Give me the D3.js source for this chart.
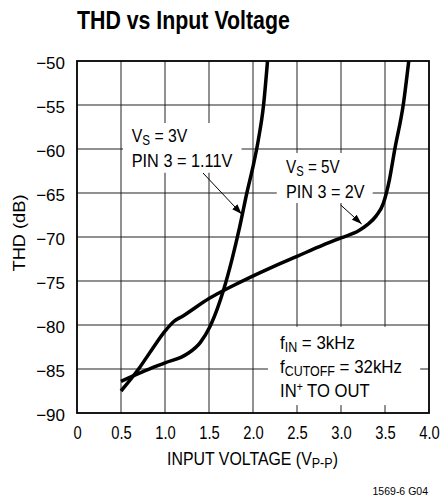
<!DOCTYPE html>
<html>
<head>
<meta charset="utf-8">
<script src="https://cdn.jsdelivr.net/npm/d3@7"></script>
<style>
  html, body { margin: 0; padding: 0; background: #fff; }
  svg { display: block; }
  text { font-family: "Liberation Sans", Arial, sans-serif; fill: #000; }
</style>
</head>
<body>
<svg id="chart" width="445" height="497"></svg>
<script>
// ---- data ----
const xTicks = [0, 0.5, 1.0, 1.5, 2.0, 2.5, 3.0, 3.5, 4.0];
const yTicks = [-50, -55, -60, -65, -70, -75, -80, -85, -90];

// Vs = 3V, PIN 3 = 1.11V
const vs3V  = [0.5, 0.75, 1.0, 1.25, 1.4, 1.51, 1.6, 1.66, 1.76, 1.85, 1.93, 2.0, 2.06, 2.12, 2.165];
const vs3DB = [-86.4, -85.3, -84.3, -83.3, -82.0, -80.2, -78.0, -76.2, -72.6, -68.8, -65.0, -62.0, -59.0, -55.0, -50];

// Vs = 5V, PIN 3 = 2V
const vs5V  = [0.5, 0.7, 0.85, 1.0, 1.1, 1.2, 1.5, 1.8, 2.2, 2.5, 2.8, 3.0, 3.2, 3.3, 3.4, 3.48, 3.55, 3.61, 3.71, 3.77];
const vs5DB = [-87.5, -85.0, -82.8, -80.7, -79.6, -79.0, -77.0, -75.4, -73.5, -72.2, -70.9, -70.1, -69.3, -68.6, -67.6, -66.2, -63.5, -60.1, -54.8, -50];

// ---- layout ----
const svg = d3.select("#chart");
const L = 77, R = 429, T = 61, B = 413;
const x = d3.scaleLinear().domain([0, 4]).range([L, R]);
const y = d3.scaleLinear().domain([-90, -50]).range([B, T]);

// squeeze a text horizontally to a target width about its anchor x
function fit(sel, w, ax) {
  const node = sel.node();
  const bw = node.getBBox().width;
  const k = w / bw;
  sel.attr("transform", `translate(${ax},0) scale(${k},1) translate(${-ax},0)`);
}

// title
const title = svg.append("text").attr("x", 77).attr("y", 29)
  .style("font-size", "26px").style("font-weight", "bold")
  .text("THD vs Input Voltage");
fit(title, 213, 77);

// grid
const grid = svg.append("g");
grid.selectAll("line.v").data(xTicks.slice(1, -1)).join("line")
  .attr("x1", d => x(d)).attr("x2", d => x(d)).attr("y1", T).attr("y2", B)
  .attr("stroke", "#222").attr("stroke-width", 1);
grid.selectAll("line.h").data(yTicks.slice(1, -1)).join("line")
  .attr("x1", L).attr("x2", R).attr("y1", d => y(d)).attr("y2", d => y(d))
  .attr("stroke", "#222").attr("stroke-width", 1);

// annotation masks (white boxes behind labels), in data units [x0, x1, yTop, yBottom]
const masks = [
  [0.523, 1.87, -57.05, -62.7],
  [2.27, 3.36, -60.45, -66.14],
  [2.17, 3.9, -80.2, -89.1]
];
svg.append("g").selectAll("rect").data(masks).join("rect")
  .attr("x", d => x(d[0])).attr("width", d => x(d[1]) - x(d[0]))
  .attr("y", d => y(d[2])).attr("height", d => y(d[3]) - y(d[2]))
  .attr("fill", "#fff");

// frame
svg.append("rect").attr("x", L).attr("y", T).attr("width", R - L).attr("height", B - T)
  .attr("fill", "none").attr("stroke", "#000").attr("stroke-width", 1.8);

// axes labels
const xAxis = d3.axisBottom(x).tickValues(xTicks).tickSize(0).tickPadding(13)
  .tickFormat(d => d === 0 ? "0" : d3.format(".1f")(d));
const gx = svg.append("g").attr("transform", `translate(0,${B})`).call(xAxis);
gx.select(".domain").remove();
gx.selectAll("text").style("font-size", "18px").style("font-family", null)
  .attr("transform", "scale(0.82,1)").attr("x", 0);

const yAxis = d3.axisLeft(y).tickValues(yTicks).tickSize(0).tickPadding(12)
  .tickFormat(d => "\u2212" + Math.abs(d));
const gy = svg.append("g").attr("transform", `translate(${L},0)`).call(yAxis);
gy.select(".domain").remove();
gy.selectAll("text").style("font-size", "17px").style("font-family", null).attr("dy", "0.42em");

// curves
const line = d3.line().x(d => x(d[0])).y(d => y(d[1])).curve(d3.curveMonotoneX);
const s3 = vs3V.map((v, i) => [v, vs3DB[i]]);
const s5 = vs5V.map((v, i) => [v, vs5DB[i]]);
svg.append("path").datum(s3).attr("d", line).attr("fill", "none").attr("stroke", "#000").attr("stroke-width", 3.5);
svg.append("path").datum(s5).attr("d", line).attr("fill", "none").attr("stroke", "#000").attr("stroke-width", 3.5);

// arrows
const defs = svg.append("defs");
defs.append("marker").attr("id", "ah").attr("viewBox", "0 0 10 10").attr("refX", 10).attr("refY", 5)
  .attr("markerWidth", 10).attr("markerHeight", 10).attr("markerUnits", "userSpaceOnUse").attr("orient", "auto")
  .append("path").attr("d", "M0,1.5 L10,5 L0,8.5 Z").attr("fill", "#000");
const arrows = [
  [1.432, -62.73, 1.871, -67.39],
  [2.996, -66.36, 3.235, -68.52]
];
svg.append("g").selectAll("line").data(arrows).join("line")
  .attr("x1", d => x(d[0])).attr("y1", d => y(d[1]))
  .attr("x2", d => x(d[2])).attr("y2", d => y(d[3]))
  .attr("stroke", "#000").attr("stroke-width", 1).attr("marker-end", "url(#ah)");

// annotation texts
function label(xv, yv, parts, w) {
  const t = svg.append("text").attr("x", x(xv)).attr("y", y(yv)).style("font-size", "19px");
  parts.forEach(p => {
    const ts = t.append("tspan").text(p.t);
    if (p.sub) ts.attr("dy", "3").style("font-size", "14px");
    else if (p.sup) ts.attr("dy", "-6").style("font-size", "12px");
    else if (p.back) ts.attr("dy", p.back);
  });
  fit(t, w, x(xv));
}
label(0.622, -59.17, [{t: "V"}, {t: "S", sub: true}, {t: " = 3V", back: "-3"}], 56);
label(0.622, -62.0, [{t: "PIN 3 = 1.11V"}], 101);
label(2.375, -62.76, [{t: "V"}, {t: "S", sub: true}, {t: " = 5V", back: "-3"}], 54);
label(2.375, -65.6, [{t: "PIN 3 = 2V"}], 79);
label(2.307, -82.76, [{t: "f"}, {t: "IN", sub: true}, {t: " = 3kHz", back: "-3"}], 75);
label(2.307, -85.5, [{t: "f"}, {t: "CUTOFF", sub: true}, {t: " = 32kHz", back: "-3"}], 122);
label(2.307, -88.2, [{t: "IN"}, {t: "+", sup: true}, {t: " TO OUT", back: "6"}], 90);

// axis titles
const xt = svg.append("text").attr("x", 252.5).attr("y", 465).attr("text-anchor", "middle").style("font-size", "19px");
xt.append("tspan").text("INPUT VOLTAGE (V");
xt.append("tspan").text("P-P").attr("dy", 3).style("font-size", "15px");
xt.append("tspan").text(")").attr("dy", -3);
fit(xt, 171, 252.5);

const yt = svg.append("text").attr("text-anchor", "middle").style("font-size", "17px").text("THD (dB)");
const ytw = yt.node().getBBox().width;
yt.attr("transform", `translate(25,233) rotate(-90) scale(${77 / ytw},1)`);

const code = svg.append("text").attr("x", 428).attr("y", 495).attr("text-anchor", "end").style("font-size", "10px").text("1569-6 G04");
fit(code, 56, 428);
</script>
</body>
</html>
